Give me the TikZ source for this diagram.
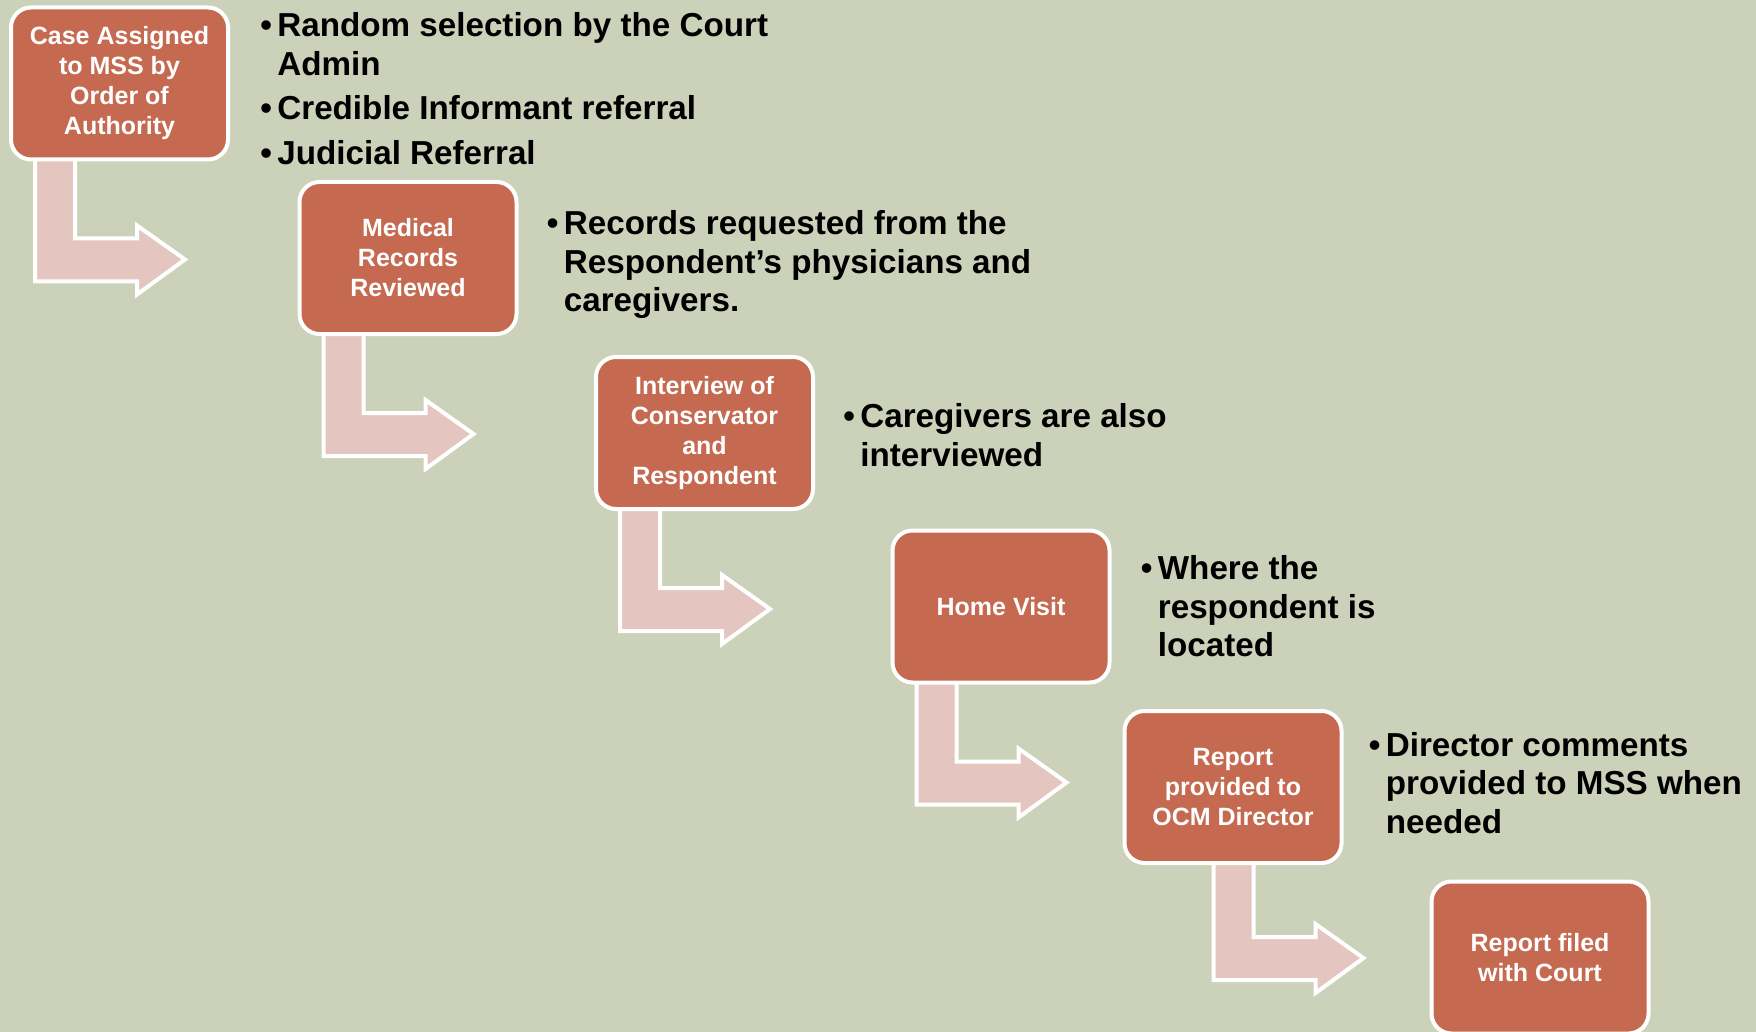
\documentclass[tikz,border=0pt]{standalone}
\usepackage{fontspec}
\setmainfont{Liberation Sans}
\usetikzlibrary{positioning,calc}
\definecolor{bgsage}{HTML}{CCD2B9}
\definecolor{stepred}{HTML}{C56950}
\definecolor{arrowpink}{HTML}{E4C5C0}
\pgfdeclarelayer{back}
\pgfdeclarelayer{arrows}
\pgfsetlayers{back,arrows,main}
\newcommand{\bul}{\makebox[8.5pt][l]{\textbullet}}
\newcommand{\ind}{\hspace*{8.5pt}}
% bent arrow below a step, #1 is the top-left corner it hangs from
\newcommand{\stepdown}[1]{\draw[bentarrow,shift={(#1)}] (26,140) -- (26,276) -- (128,276) -- (128,289) -- (176,254) -- (128,220) -- (128,233) -- (66,233) -- (66,140) -- cycle;}

\begin{document}
\begin{tikzpicture}[x=0.5pt,y=-0.5pt,
  stepbox/.style={draw=white,line width=2pt,fill=stepred,rounded corners=10pt,minimum width=108.5pt,minimum height=76pt,
    align=center,text=white,inner sep=2pt,font=\fontsize{12.5}{15}\selectfont\bfseries},
  bullets/.style={align=left,inner sep=0pt,font=\fontsize{16.6}{19.25}\selectfont\bfseries},
  bentarrow/.style={draw=white,line width=2pt,fill=arrowpink}]
\begin{pgfonlayer}{back}
\fill[bgsage] (0,0) rectangle (1756,1032);
\end{pgfonlayer}
\useasboundingbox (0,0) rectangle (1756,1032);

\node[stepbox] (b1) at (119.5,83.5) {Case Assigned\\to MSS by\\Order of\\Authority};
\node[stepbox] (b2) at (408,258) {Medical\\Records\\Reviewed};
\node[stepbox] (b3) at (704.5,433) {Interview of\\Conservator\\and\\Respondent};
\node[stepbox] (b4) at (1001,606.5) {Home Visit};
\node[stepbox] (b5) at (1233,787) {Report\\provided to\\OCM Director};
\node[stepbox] (b6) at (1540,957.5) {Report filed\\with Court};

\node[bullets,right=15pt of b1,yshift=-2.5pt] (t1) {\bul Random selection by the Court\\\ind Admin\\[3pt]\bul Credible Informant referral\\[3pt]\bul Judicial Referral};
\node[bullets,right=14pt of b2,yshift=-3.3pt] (t2) {\bul Records requested from the\\\ind Respondent's physicians and\\\ind caregivers.};
\node[bullets,right=14pt of b3,yshift=-1pt] (t3) {\bul Caregivers are also\\\ind interviewed};
\node[bullets,right=14.5pt of b4] (t4) {\bul Where the\\\ind respondent is\\\ind located};
\node[bullets,right=12.5pt of b5,yshift=2pt] (t5) {\bul Director comments\\\ind provided to MSS when\\\ind needed};

\begin{pgfonlayer}{arrows}
\stepdown{b1.north west}
\stepdown{b2.north west}
\stepdown{b3.north west}
\stepdown{b4.north west}
\stepdown{$(b5.north west)+(65,-5)$}
\end{pgfonlayer}
\end{tikzpicture}
\end{document}
